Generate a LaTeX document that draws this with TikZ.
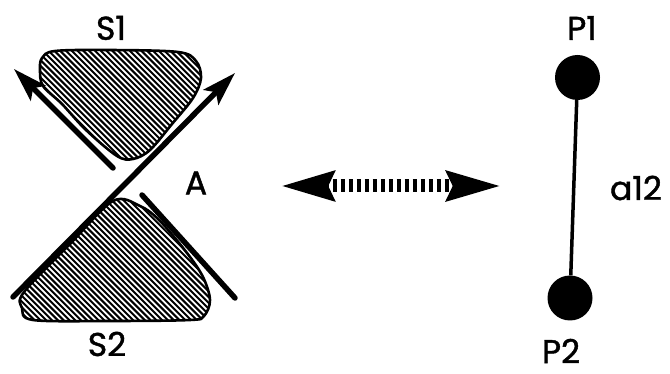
\documentclass[tikz,border=0pt]{standalone}
\usepackage{fontspec}
\setmainfont{Poppins}
\newfontfamily\lblfont[FakeBold=1.3]{Poppins}
\usetikzlibrary{arrows.meta}
\begin{document}
\begin{tikzpicture}[x=1pt,y=-1pt,
  lbl/.style={font=\lblfont\fontsize{33}{33}\selectfont, inner sep=0pt},
  outline/.style={line width=2.6pt},
  hatch/.style={line width=2.0pt},
  bar/.style={line width=5.5pt, line cap=round},
  bighead/.style={-{Stealth[length=34pt,width=21pt,inset=7pt]}},
  dot/.style={circle, fill=black, minimum size=45pt, inner sep=0pt},
  link/.style={line width=3.5pt},
  dbl/.style={line width=13pt, dash pattern=on 4pt off 4pt,
    {Stealth[length=53pt,width=28pt,inset=5pt]}-{Stealth[length=54pt,width=28pt,inset=5pt]}},
]
\useasboundingbox (0,0) rectangle (670,374);
\def\blobA{plot[smooth cycle, tension=0.55] coordinates {(42,58) (55,51) (110,50) (178,52) (196,61) (201,78) (193,98) (172,124) (150,150) (133,159) (117,156) (86,130) (62,104) (43,86) (40,70)}}
\def\blobB{plot[smooth cycle, tension=0.55] coordinates {(113,201) (140,206) (160,221) (187,253) (203,277) (210,300) (204,316) (190,320) (110,321) (33,320) (22,308) (24,292) (70,244)}}
% blob S1
\begin{scope}
\clip \blobA;
\foreach \k in {-200,-194.2,...,260} \draw[hatch] (\k,40) -- ++(180,180);
\end{scope}
\draw[outline] \blobA;
% blob S2
\begin{scope}
\clip \blobB;
\foreach \k in {-200,-194.2,...,260} \draw[hatch] (\k,190) -- ++(180,180);
\end{scope}
\draw[outline] \blobB;
% lines
\coordinate (la) at (13,297);
\coordinate (lb) at (235,73);
\coordinate (ua) at (113,168);
\coordinate (ub) at (14,69);
\coordinate (ra) at (142,195);
\coordinate (rb) at (235,298);
\draw[bar, bighead] (la) -- (lb);
\draw[bar, bighead] (ua) -- (ub);
\draw[bar] (ra) -- (rb);
% labels
\node[lbl] (s1) at (111,28) {S1};
\node[lbl] (s2) at (107,344) {S2};
\node[lbl] (a) at (196,183) {A};
% double arrow
\coordinate (dl) at (280,186);
\coordinate (dr) at (502,186);
\draw[dbl] (dl) -- (dr);
% graph
\node[dot] (p1c) at (577.5,77.5) {};
\node[dot] (p2c) at (570,298) {};
\draw[link] (p1c) -- (p2c);
\node[lbl] (p1) at (582,28) {P1};
\node[lbl] (p2) at (561,351) {P2};
\node[lbl] (a12) at (636,188) {a12};
\end{tikzpicture}
\end{document}
